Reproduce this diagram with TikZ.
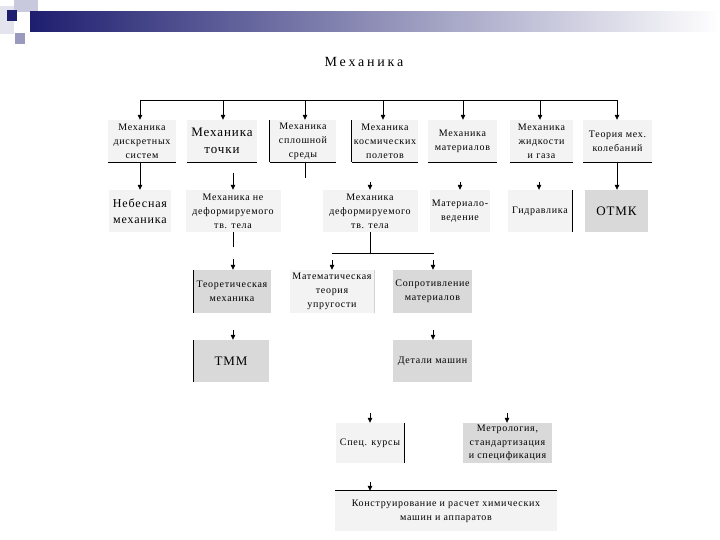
\documentclass[tikz,border=0pt]{standalone}
\usepackage{fontspec}
\setmainfont{Liberation Serif}[LetterSpace=7]
\usetikzlibrary{arrows.meta}
\definecolor{boxlight}{HTML}{F3F3F3}
\definecolor{boxgray}{HTML}{D9D9D9}
\definecolor{navy}{HTML}{1E1E70}
\definecolor{pale}{HTML}{C9C9DD}
\definecolor{lav}{HTML}{9A9ABF}
\tikzset{
  txt/.style={inner sep=0pt, align=center, font=\fontsize{10}{14}\selectfont},
  lbox/.style={txt, fill=boxlight},
  gbox/.style={txt, fill=boxgray},
  big/.style={font=\fontsize{13}{17}\selectfont},
  mid/.style={font=\fontsize{12}{16}\selectfont},
  arr/.style={-{Triangle[length=5pt,width=4.5pt]}, line width=0.7pt},
  ln/.style={line width=0.7pt},
}
\begin{document}
\begin{tikzpicture}[x=1pt,y=-1pt]
\useasboundingbox (0,0) rectangle (720,540);
\fill[white] (0,0) rectangle (720,540);
% header decoration
\fill[pale!50] (0,6) rectangle (14,34);
\fill[pale] (14,0) rectangle (38,12);
\shade[left color=navy, right color=white] (30,12) rectangle (720,32);
\fill[navy] (7,10) rectangle (17,21);
\fill[lav] (15,33) rectangle (25,44);
% title
\node[inner sep=0pt, font=\fontsize{14}{16}\selectfont\addfontfeatures{LetterSpace=20}] (title) at (364,62) {Механика};
% top row
\node[lbox, minimum width=68pt, minimum height=42pt] (t1) at (142,141) {Механика\\дискретных\\систем};
\node[lbox, big, minimum width=70pt, minimum height=42pt] (t2) at (222,141) {Механика\\точки};
\node[lbox, minimum width=66pt, minimum height=42pt] (t3) at (303,141) {Механика\\сплошной\\среды};
\node[lbox, minimum width=66pt, minimum height=42pt] (t4) at (385,141) {Механика\\космических\\полетов};
\node[lbox, minimum width=69pt, minimum height=42pt] (t5) at (462.5,141) {Механика\\материалов};
\node[lbox, minimum width=63pt, minimum height=42pt] (t6) at (541.5,141) {Механика\\жидкости\\и газа};
\node[lbox, minimum width=69pt, minimum height=42pt] (t7) at (617.5,141) {Теория мех.\\колебаний};
\foreach \n in {t1,t2,t3,t4,t5,t6,t7}{\draw[ln] (\n.south west) -- (\n.south east);}
\draw[ln] (t3.south west) -- (t3.north west);
\draw[ln] (t4.south west) -- (t4.north west);
% bus
\coordinate (a1) at (140,100);
\coordinate (a2) at (223,100);
\coordinate (a3) at (305,100);
\coordinate (a4) at (383,100);
\coordinate (a5) at (463,100);
\coordinate (a6) at (540,100);
\coordinate (a7) at (617,100);
\draw[ln] (a1) -- (a7);
\draw[arr] (a1) -- (a1 |- t1.north);
\draw[arr] (a2) -- (a2 |- t2.north);
\draw[arr] (a3) -- (a3 |- t3.north);
\draw[arr] (a4) -- (a4 |- t4.north);
\draw[arr] (a5) -- (a5 |- t5.north);
\draw[arr] (a6) -- (a6 |- t6.north);
\draw[arr] (a7) -- (a7 |- t7.north);
% second row
\node[lbox, mid, minimum width=62pt, minimum height=42pt] (n1) at (140,211) {Небесная\\механика};
\node[lbox, minimum width=95pt, minimum height=42pt] (n2) at (233,211) {Механика не\\деформируемого\\тв. тела};
\node[lbox, minimum width=95pt, minimum height=42pt] (n3) at (370,211) {Механика\\деформируемого\\тв. тела};
\node[lbox, minimum width=60pt, minimum height=42pt] (n4) at (460,211) {Материало-\\ведение};
\node[lbox, minimum width=64pt, minimum height=42pt] (n5) at (540,211) {Гидравлика};
\node[gbox, big, minimum width=63pt, minimum height=42pt] (n6) at (616.5,211) {ОТМК};
\draw[ln] (n5.north east) -- (n5.south east);
\draw[arr] (t1.south -| a1) -- (n1.north -| a1);
\draw[arr] (t7.south -| a7) -- (n6.north -| a7);
\coordinate (c2) at (233,173);
\draw[arr] (c2) -- (c2 |- n2.north);
\coordinate (c3) at (305,178);
\draw[ln] (t3.south -| c3) -- (c3);
\coordinate (c4) at (370,182);
\draw[arr] (c4) -- (c4 |- n3.north);
\coordinate (c5) at (460,182);
\draw[arr] (c5) -- (c5 |- n4.north);
\coordinate (c6) at (539,182);
\draw[arr] (c6) -- (c6 |- n5.north);
% third row
\node[gbox, minimum width=77pt, minimum height=43pt] (m1) at (232,291.5) {Теоретическая\\механика};
\node[lbox, minimum width=84pt, minimum height=43pt] (m2) at (332,291.5) {Математическая\\теория\\упругости};
\node[gbox, minimum width=79pt, minimum height=43pt] (m3) at (432.5,291.5) {Сопротивление\\материалов};
\draw[ln] (m1.north west) -- (m1.south west);
\draw[gray!35] (m2.north east) -- (m2.south east);
\coordinate (d1) at (233,247);
\draw[ln] (n2.south -| d1) -- (d1);
\coordinate (e1) at (233,259);
\draw[arr] (e1) -- (e1 |- m1.north);
\coordinate (fL) at (332,253);
\coordinate (fR) at (434,253);
\draw[ln] (fL) -- (fR);
\draw[ln] (n3.south) -- (n3.south |- fL);
\coordinate (g1) at (332,260);
\draw[arr] (g1) -- (g1 |- m2.north);
\coordinate (g2) at (433,260);
\draw[arr] (g2) -- (g2 |- m3.north);
% fourth row
\node[gbox, big, minimum width=75pt, minimum height=42pt] (q1) at (231,361) {ТММ};
\node[gbox, minimum width=79pt, minimum height=42pt] (q2) at (432.5,361) {Детали машин};
\draw[ln] (q1.north west) -- (q1.south west);
\coordinate (h1) at (233,330);
\draw[arr] (h1) -- (h1 |- q1.north);
\coordinate (h2) at (433,330);
\draw[arr] (h2) -- (h2 |- q2.north);
% fifth row
\node[lbox, minimum width=68pt, minimum height=40pt] (s1) at (370,443) {Спец. курсы};
\node[gbox, font=\fontsize{10}{13.5}\selectfont, minimum width=89pt, minimum height=40pt] (s2) at (507.5,443) {Метрология,\\стандартизация\\и спецификация};
\draw[ln] (s1.north east) -- (s1.south east);
\coordinate (k1) at (370,413);
\draw[arr] (k1) -- (k1 |- s1.north);
\coordinate (k2) at (507,413);
\draw[arr] (k2) -- (k2 |- s2.north);
% bottom
\node[lbox, minimum width=222pt, minimum height=40pt] (u) at (446,511) {Конструирование и расчет химических\\машин и аппаратов};
\draw[ln] (u.north west) -- (u.north east);
\coordinate (k3) at (370,482);
\draw[arr] (k3) -- (k3 |- u.north);
\end{tikzpicture}
\end{document}
